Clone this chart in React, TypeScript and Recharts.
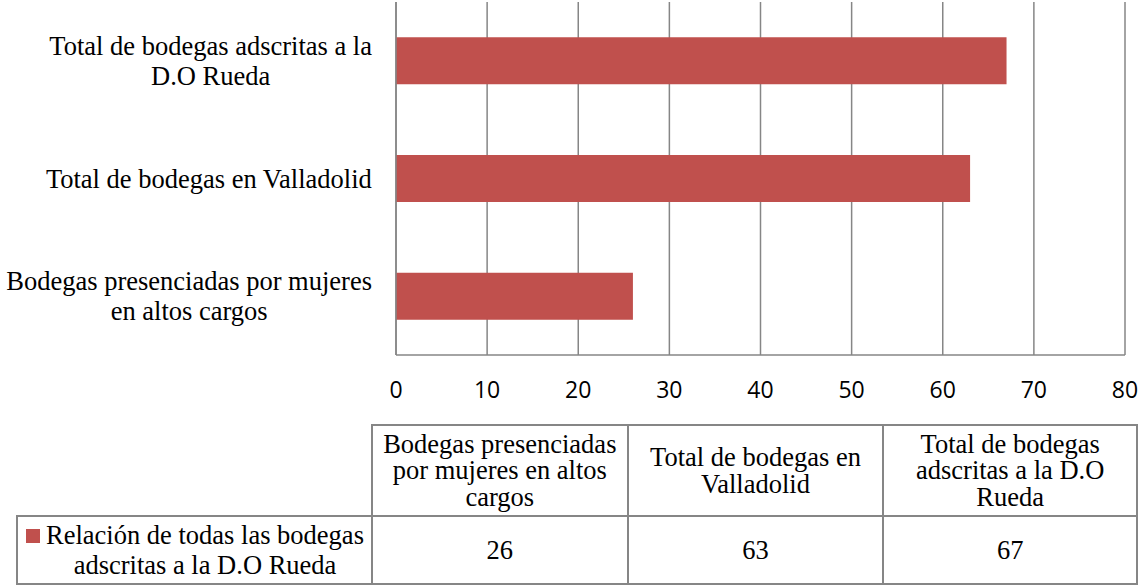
import React from 'react';
import { Bar, BarChart, CartesianGrid, XAxis, YAxis } from 'recharts';

// categories in data order (Excel draws the first one at the bottom)
const categories = [
  'Bodegas presenciadas por mujeres\nen altos cargos',
  'Total de bodegas en Valladolid',
  'Total de bodegas adscritas a la\nD.O Rueda',
];
const values = [26, 63, 67];
const xTicks = [0, 10, 20, 30, 40, 50, 60, 70, 80];
const seriesName = 'Relación de todas las bodegas adscritas a la D.O Rueda';

const BAR = '#C0504D';
const GRID = '#868686';
const SERIF = '"Liberation Serif", "Times New Roman", serif';
const SERIF_SIZE = 26.5;

const data = categories.map((c, i) => ({ name: c, value: values[i] }));

let ctx: CanvasRenderingContext2D | null = null;
const textWidth = (s: string) => {
  if (!ctx) ctx = document.createElement('canvas').getContext('2d');
  ctx!.font = `${SERIF_SIZE}px ${SERIF}`;
  return ctx!.measureText(s).width;
};

const CategoryTick = ({ x, y, payload }: any) => {
  const lines: string[] = String(payload.value).split('\n');
  const block = Math.max(...lines.map(textWidth));
  const cx = x - 24 - block / 2;
  const n = lines.length;
  return (
    <g>
      {lines.map((l, i) => (
        <text
          key={i}
          x={cx}
          y={y + 9 + (i - (n - 1) / 2) * 30}
          textAnchor="middle"
          fill="#000"
          style={{ fontFamily: SERIF, fontSize: SERIF_SIZE }}
        >
          {l}
        </text>
      ))}
    </g>
  );
};

const ValueTick = ({ x, y, payload }: any) => (
  <text
    x={x}
    y={y + 43}
    textAnchor="middle"
    fill="#000"
    style={{ fontFamily: '"Open Sans", sans-serif', fontSize: 23 }}
  >
    {payload.value}
  </text>
);

const cellBorder = `2px solid ${GRID}`;

function DataTable() {
  const left = 371;
  const right = 1138;
  const colW = (right - left) / categories.length;
  const cellText: React.CSSProperties = {
    fontFamily: SERIF,
    fontSize: SERIF_SIZE,
    color: '#000',
    textAlign: 'center',
  };
  return (
    <>
      {categories.map((c, i) => (
        <div
          key={'h' + i}
          style={{
            position: 'absolute',
            left: left + i * colW,
            top: 424,
            width: colW,
            height: 91,
            boxSizing: 'border-box',
            borderTop: cellBorder,
            borderLeft: cellBorder,
            borderRight: i === categories.length - 1 ? cellBorder : undefined,
            display: 'flex',
            alignItems: 'center',
            justifyContent: 'center',
            ...cellText,
            lineHeight: '26.5px',
            padding: '0 2px',
          }}
        >
          {c.replace('\n', ' ')}
        </div>
      ))}
      {values.map((v, i) => (
        <div
          key={'v' + i}
          style={{
            position: 'absolute',
            left: left + i * colW,
            top: 515,
            width: colW,
            height: 70,
            boxSizing: 'border-box',
            borderTop: cellBorder,
            borderLeft: cellBorder,
            borderBottom: cellBorder,
            borderRight: i === values.length - 1 ? cellBorder : undefined,
            display: 'flex',
            alignItems: 'center',
            justifyContent: 'center',
            ...cellText,
          }}
        >
          {v}
        </div>
      ))}
      <div
        style={{
          position: 'absolute',
          left: 16,
          top: 515,
          width: left - 16,
          height: 70,
          boxSizing: 'border-box',
          border: cellBorder,
          borderRight: 'none',
        }}
      >
        <div
          style={{
            position: 'absolute',
            left: 8,
            top: 12,
            width: 14,
            height: 14,
            background: BAR,
          }}
        />
        <div
          style={{
            position: 'absolute',
            left: 26,
            top: 3,
            width: 322,
            ...cellText,
            lineHeight: '30px',
          }}
        >
          {seriesName}
        </div>
      </div>
    </>
  );
}

export default function App() {
  return (
    <div
      style={{
        position: 'absolute',
        left: 0,
        top: 0,
        width: 1142,
        height: 586,
        background: '#fff',
        overflow: 'hidden',
      }}
    >
      <BarChart
        width={1142}
        height={586}
        data={data}
        layout="vertical"
        margin={{ top: 2, right: 17, left: 0, bottom: 171 }}
        barCategoryGap="30%"
      >
        <CartesianGrid horizontal={false} stroke={GRID} strokeWidth={1.5} />
        <XAxis
          type="number"
          domain={[0, 80]}
          ticks={xTicks}
          interval={0}
          height={60}
          tickSize={0}
          tickMargin={0}
          tickLine={false}
          axisLine={{ stroke: GRID, strokeWidth: 1.5 }}
          tick={<ValueTick />}
        />
        <YAxis
          type="category"
          dataKey="name"
          reversed
          width={396}
          tickSize={0}
          tickMargin={0}
          tickLine={false}
          axisLine={{ stroke: GRID, strokeWidth: 1.5 }}
          tick={<CategoryTick />}
          interval={0}
        />
        <Bar dataKey="value" fill={BAR} isAnimationActive={false} />
      </BarChart>
      <DataTable />
    </div>
  );
}
